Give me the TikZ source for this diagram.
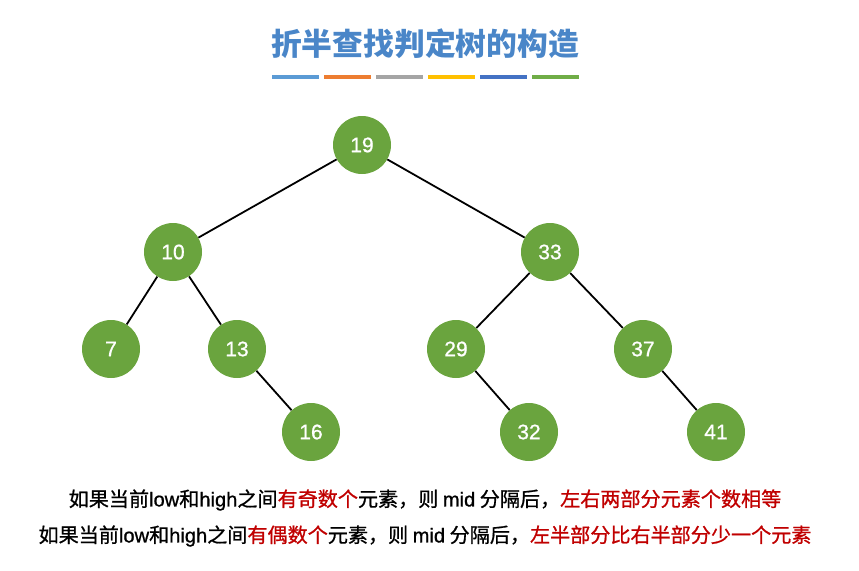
\documentclass[tikz,border=0pt]{standalone}
\usepackage{fontspec}
\setmainfont{Liberation Sans}
\newfontfamily\cjk{Noto Sans CJK SC}
\newfontfamily\cjkm{Noto Sans CJK SC}[FakeBold=0.9]
\newfontfamily\latm{Liberation Sans}[FakeBold=0.9]
\definecolor{nodegreen}{RGB}{106,164,62}
\definecolor{titleblue}{RGB}{74,134,200}
\definecolor{txtred}{RGB}{192,0,0}
\definecolor{barA}{RGB}{91,155,213}
\definecolor{barB}{RGB}{237,125,49}
\definecolor{barC}{RGB}{165,165,165}
\definecolor{barD}{RGB}{255,192,0}
\definecolor{barE}{RGB}{68,114,196}
\definecolor{barF}{RGB}{112,173,71}
\newcommand{\lat}[1]{{\latm #1}}
\tikzset{
  tnode/.style={circle, fill=nodegreen, minimum size=58pt, inner sep=0pt, text=white, font=\latm\fontsize{21}{24}\selectfont},
  edge/.style={line width=1.8pt, black},
  bar/.style={line width=4pt},
  caption/.style={font=\cjkm\fontsize{20.1}{23}\selectfont, anchor=center, inner sep=0pt}
}
\begin{document}
\begin{tikzpicture}[x=1pt,y=-1pt]
\useasboundingbox (0,0) rectangle (859,570);
\node[font=\cjk\bfseries\fontsize{30.8}{34}\selectfont, text=titleblue, inner sep=0pt] (title) at (425,44) {折半查找判定树的构造};
\foreach \c [count=\i from 0] in {barA,barB,barC,barD,barE,barF}{
  \draw[bar, \c] ({272+\i*52},77) -- ({319+\i*52},77);
}
\node[tnode] (n19) at (362,145) {19};
\node[tnode] (n10) at (173,252) {10};
\node[tnode] (n33) at (550,252) {33};
\node[tnode] (n7) at (111,349) {7};
\node[tnode] (n13) at (237,349) {13};
\node[tnode] (n29) at (456,349) {29};
\node[tnode] (n37) at (643,349) {37};
\node[tnode] (n16) at (311,432) {16};
\node[tnode] (n32) at (529,432) {32};
\node[tnode] (n41) at (716,432) {41};
\draw[edge] (n19) -- (n10);
\draw[edge] (n19) -- (n33);
\draw[edge] (n10) -- (n7);
\draw[edge] (n10) -- (n13);
\draw[edge] (n13) -- (n16);
\draw[edge] (n33) -- (n29);
\draw[edge] (n33) -- (n37);
\draw[edge] (n29) -- (n32);
\draw[edge] (n37) -- (n41);
\node[caption] (l1) at (425,500) {如果当前\lat{low}和\lat{high}之间\textcolor{txtred}{有奇数个}元素，则 \lat{mid} 分隔后，\textcolor{txtred}{左右两部分元素个数相等}};
\node[caption] (l2) at (425,536) {如果当前\lat{low}和\lat{high}之间\textcolor{txtred}{有偶数个}元素，则 \lat{mid} 分隔后，\textcolor{txtred}{左半部分比右半部分少一个元素}};
\end{tikzpicture}
\end{document}
